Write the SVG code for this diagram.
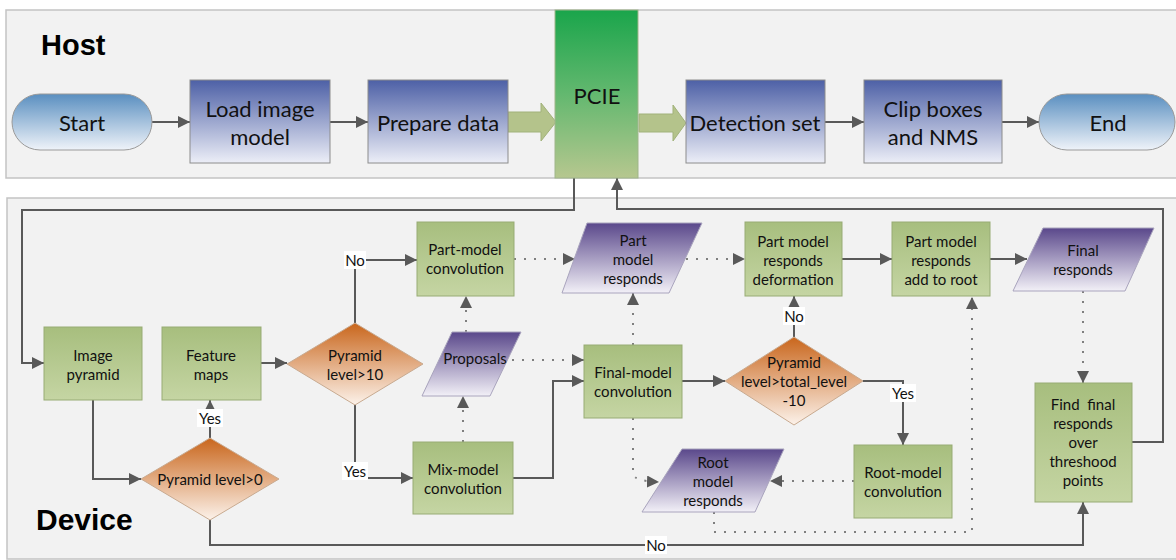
<svg xmlns="http://www.w3.org/2000/svg" width="1176" height="560" viewBox="0 0 1176 560">
<style>
.panel{fill:#f2f2f2;stroke:#c3c3c3;stroke-width:1.5}
.t{font-family:Lato,"Open Sans","Liberation Sans",sans-serif;fill:#111;text-anchor:middle;dominant-baseline:central}
.big{font-size:22px}
.sm{font-size:15px}
.title{font-family:"Liberation Sans",Arial,sans-serif;font-weight:bold;fill:#000}
.blue{fill:url(#gBlue);stroke:#8c8c8c;stroke-width:1}
.pill{fill:url(#gPill);stroke:#9a9a9a;stroke-width:1}
.grn{fill:url(#gGreen);stroke:#97ab74;stroke-width:1}
.dia{fill:url(#gOrange);stroke:#c8aa90;stroke-width:1}
.par{fill:url(#gPurple);stroke:#a9a4bd;stroke-width:1}
.fat{fill:#b4c38b;stroke:#a1b27b;stroke-width:1}
.c{fill:none;stroke:#595959;stroke-width:2;marker-end:url(#ah)}
.d{fill:none;stroke:#7f7f7f;stroke-width:2;stroke-dasharray:2 8;marker-end:url(#ah)}
.lb{fill:#fff}
</style>
<defs>
<linearGradient id="gBlue" x1="0" y1="0" x2="0" y2="1"><stop offset="0" stop-color="#4d60a6"/><stop offset="1" stop-color="#eceef7"/></linearGradient>
<linearGradient id="gPill" x1="0" y1="0" x2="0" y2="1"><stop offset="0" stop-color="#5a8fc0"/><stop offset="1" stop-color="#eff3f9"/></linearGradient>
<linearGradient id="gPcie" x1="0" y1="0" x2="0" y2="1"><stop offset="0" stop-color="#1aa54b"/><stop offset="0.5" stop-color="#63b86f"/><stop offset="1" stop-color="#b6c78f"/></linearGradient>
<linearGradient id="gGreen" x1="0" y1="0" x2="0" y2="1"><stop offset="0" stop-color="#a7be7e"/><stop offset="1" stop-color="#c5d5a3"/></linearGradient>
<linearGradient id="gOrange" x1="0" y1="0" x2="0" y2="1"><stop offset="0" stop-color="#c9661c"/><stop offset="1" stop-color="#fcf2ea"/></linearGradient>
<linearGradient id="gPurple" x1="0" y1="0" x2="0" y2="1"><stop offset="0" stop-color="#5a488b"/><stop offset="1" stop-color="#f2f0f7"/></linearGradient>
<marker id="ah" viewBox="0 0 10 10" refX="10" refY="5" markerWidth="12" markerHeight="12" markerUnits="userSpaceOnUse" orient="auto"><path d="M0,0 L10,5 L0,10 z" fill="#595959"/></marker>
</defs>

<rect class="panel" x="6" y="10" width="1190" height="168"/>
<rect class="panel" x="7" y="198" width="1190" height="361"/>
<text class="title" x="41" y="55" font-size="29">Host</text>
<text class="title" x="36" y="530" font-size="30">Device</text>

<g id="connectors">
<path class="c" d="M152,122 H190"/>
<path class="c" d="M330,122 H368"/>
<path class="c" d="M825,122 H864"/>
<path class="c" d="M1002,122 H1039"/>
<path class="c" d="M574,178 V210 H22 V363 H44"/>
<path class="c" d="M1132,442 H1163 V209 H617 V178"/>
<path class="c" d="M93,400 V479 H141"/>
<path class="c" d="M210,438 V400"/>
<path class="c" d="M261,363 H287"/>
<path class="c" d="M355,323 V260 H417"/>
<path class="c" d="M355,405 V478 H413"/>
<path class="c" d="M513,478 H553 V381 H584"/>
<path class="c" d="M682,381 H725"/>
<path class="c" d="M794,337 V296"/>
<path class="c" d="M863,381 H903 V445"/>
<path class="c" d="M842,259 H892"/>
<path class="c" d="M990,259 H1027"/>
<path class="c" d="M210,520 V545 H1083 V502"/>
<path class="d" d="M514,259 H575"/>
<path class="d" d="M686,259 H745"/>
<path class="d" d="M466,332 V296"/>
<path class="d" d="M463,442 V396"/>
<path class="d" d="M512,360 H584"/>
<path class="d" d="M633,345 V293"/>
<path class="d" d="M633,418 V474 Q634,481 659,482"/>
<path class="d" d="M854,481 H770"/>
<path class="d" d="M714,512 V532 H972 V297"/>
<path class="d" d="M1083,291 V383"/>
<path class="fat" d="M508,112 H541 V103 L556,122 L541,141 V132 H508 z"/>
<path class="fat" d="M639,114 H673 V105 L686,123 L673,141 V132 H639 z"/>
<rect class="lb" x="344" y="251" width="22" height="18"/>
<text class="t sm" x="355" y="260">No</text>
<rect class="lb" x="342" y="462" width="26" height="18"/>
<text class="t sm" x="355" y="471">Yes</text>
<rect class="lb" x="197" y="409" width="26" height="18"/>
<text class="t sm" x="210" y="418">Yes</text>
<rect class="lb" x="783" y="307" width="22" height="18"/>
<text class="t sm" x="794" y="316">No</text>
<rect class="lb" x="890" y="384" width="26" height="18"/>
<text class="t sm" x="903" y="393">Yes</text>
<rect class="lb" x="645" y="536" width="22" height="18"/>
<text class="t sm" x="656" y="545">No</text>
</g>

<g id="start"><rect class="pill" x="12" y="94" width="140" height="56" rx="28"/><text class="t big" x="82" y="122">Start</text></g>
<g id="load"><rect class="blue" x="190" y="80" width="140" height="83"/><text class="t big" x="260" y="108">Load image</text><text class="t big" x="260" y="136">model</text></g>
<g id="prepare"><rect class="blue" x="368" y="80" width="140" height="83"/><text class="t big" x="438" y="122">Prepare data</text></g>
<g id="pcie"><rect x="555" y="10" width="83" height="168" fill="url(#gPcie)" stroke="#9fb58a" stroke-width="1"/><text class="t big" x="597" y="95">PCIE</text></g>
<g id="detection"><rect class="blue" x="686" y="80" width="139" height="83"/><text class="t big" x="755" y="122">Detection set</text></g>
<g id="clip"><rect class="blue" x="864" y="80" width="138" height="83"/><text class="t big" x="933" y="108">Clip boxes</text><text class="t big" x="933" y="136">and NMS</text></g>
<g id="end"><rect class="pill" x="1039" y="94" width="136" height="56" rx="28"/><text class="t big" x="1108" y="122">End</text></g>

<g id="imagepyramid"><rect class="grn" x="44" y="327" width="98" height="73"/><text class="t sm" x="93" y="355">Image</text><text class="t sm" x="93" y="374">pyramid</text></g>
<g id="featuremaps"><rect class="grn" x="162" y="327" width="99" height="73"/><text class="t sm" x="211" y="355">Feature</text><text class="t sm" x="211" y="374">maps</text></g>
<g id="pyr10"><path class="dia" d="M355,323 L423,364 L355,405 L287,364 z"/><text class="t sm" x="355" y="355">Pyramid</text><text class="t sm" x="355" y="374">level&gt;10</text></g>
<g id="pyr0"><path class="dia" d="M210,438 L279,479 L210,520 L141,479 z"/><text class="t sm" x="210" y="479">Pyramid level&gt;0</text></g>
<g id="partconv"><rect class="grn" x="417" y="222" width="97" height="74"/><text class="t sm" x="465" y="249">Part-model</text><text class="t sm" x="465" y="268">convolution</text></g>
<g id="proposals"><path class="par" d="M452,332 H521 L490,396 H422 z"/><text class="t sm" x="475" y="358">Proposals</text></g>
<g id="mixconv"><rect class="grn" x="413" y="442" width="100" height="72"/><text class="t sm" x="463" y="469">Mix-model</text><text class="t sm" x="463" y="488">convolution</text></g>
<g id="partresp"><path class="par" d="M587,223 H702 L669,293 H562 z"/><text class="t sm" x="633" y="240">Part</text><text class="t sm" x="633" y="259">model</text><text class="t sm" x="633" y="278">responds</text></g>
<g id="finalconv"><rect class="grn" x="584" y="345" width="98" height="73"/><text class="t sm" x="633" y="372">Final-model</text><text class="t sm" x="633" y="391">convolution</text></g>
<g id="rootresp"><path class="par" d="M682,449 H784 L755,512 H642 z"/><text class="t sm" x="713" y="462">Root</text><text class="t sm" x="713" y="481">model</text><text class="t sm" x="713" y="500">responds</text></g>
<g id="deform"><rect class="grn" x="745" y="222" width="97" height="74"/><text class="t sm" x="793" y="241">Part model</text><text class="t sm" x="793" y="260">responds</text><text class="t sm" x="793" y="279">deformation</text></g>
<g id="pyrtotal"><path class="dia" d="M794,337 L863,381 L794,425 L725,381 z"/><text class="t sm" x="794" y="362">Pyramid</text><text class="t sm" x="794" y="381">level&gt;total_level</text><text class="t sm" x="794" y="400">-10</text></g>
<g id="rootconv"><rect class="grn" x="854" y="445" width="98" height="73"/><text class="t sm" x="903" y="472">Root-model</text><text class="t sm" x="903" y="491">convolution</text></g>
<g id="addroot"><rect class="grn" x="892" y="222" width="98" height="74"/><text class="t sm" x="941" y="241">Part model</text><text class="t sm" x="941" y="260">responds</text><text class="t sm" x="941" y="279">add to root</text></g>
<g id="finalresp"><path class="par" d="M1043,228 H1154 L1125,291 H1013 z"/><text class="t sm" x="1083" y="250">Final</text><text class="t sm" x="1083" y="269">responds</text></g>
<g id="findfinal"><rect class="grn" x="1035" y="383" width="97" height="119"/><text class="t sm" x="1083" y="404" style="white-space:pre">Find  final</text><text class="t sm" x="1083" y="423">responds</text><text class="t sm" x="1083" y="442">over</text><text class="t sm" x="1083" y="461">threshood</text><text class="t sm" x="1083" y="480">points</text></g>
</svg>
